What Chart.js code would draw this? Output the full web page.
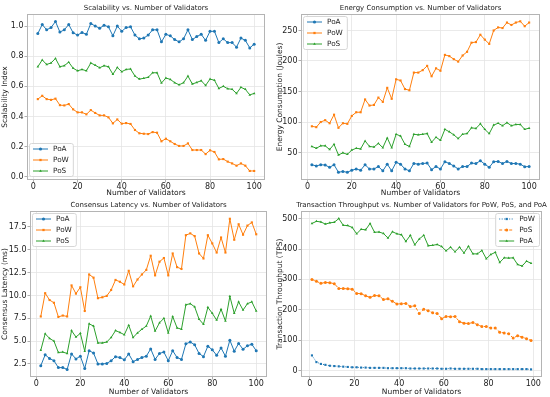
<!DOCTYPE html>
<html lang="en">
<head>
<meta charset="UTF-8">
<title>Validators</title>
<script src="https://cdn.jsdelivr.net/npm/chart.js@4.4.1/dist/chart.umd.min.js"></script>
<style>
  body { margin: 0; background: #fff; }
  .panel { position: absolute; }
</style>
</head>
<body>
<div class="panel" style="left:0;top:0"><canvas id="c1" width="275" height="198"></canvas></div>
<div class="panel" style="left:275px;top:0"><canvas id="c2" width="275" height="198"></canvas></div>
<div class="panel" style="left:0;top:198px"><canvas id="c3" width="275" height="199"></canvas></div>
<div class="panel" style="left:275px;top:198px"><canvas id="c4" width="275" height="199"></canvas></div>
<script>
// number of validators
const validators = [2,4,6,8,10,12,14,16,18,20,22,24,26,28,30,32,34,36,38,40,42,44,46,48,50,
  52,54,56,58,60,62,64,66,68,70,72,74,76,78,80,82,84,86,88,90,92,94,96,98,100];
const validatorsTps = [1,3,5,7,9,11,13,15,17,19,21,23,25,27,29,31,33,35,37,39,41,43,45,47,49,
  51,53,55,57,59,61,63,65,67,69,71,73,75,77,79,81,83,85,87,89,91,93,95,97,99];

// scalability index
const scalePoA = [0.95,1.01,0.975,0.99,1.03,0.96,0.975,1.01,0.955,0.94,0.957,0.945,1.017,1.0,0.985,1.005,0.995,0.935,1.0,0.965,
  0.99,0.995,0.94,0.915,0.92,0.94,0.975,0.975,0.895,0.945,0.935,0.91,0.895,0.915,0.975,0.91,0.93,0.945,0.905,0.965,
  0.965,0.89,0.915,0.89,0.89,0.86,0.92,0.905,0.855,0.88];
const scalePoW = [0.515,0.537,0.515,0.51,0.518,0.475,0.473,0.482,0.447,0.427,0.427,0.414,0.442,0.423,0.407,0.407,0.394,0.354,0.38,0.352,
  0.356,0.35,0.31,0.288,0.285,0.283,0.296,0.292,0.235,0.252,0.235,0.217,0.204,0.204,0.221,0.177,0.177,0.177,0.15,0.175,
  0.164,0.115,0.117,0.1,0.088,0.073,0.088,0.073,0.038,0.038];
const scalePoS = [0.73,0.775,0.745,0.755,0.785,0.73,0.737,0.76,0.72,0.703,0.712,0.703,0.755,0.74,0.723,0.737,0.73,0.68,0.725,0.697,
  0.712,0.715,0.668,0.648,0.653,0.66,0.69,0.69,0.622,0.655,0.646,0.624,0.61,0.624,0.668,0.615,0.626,0.637,0.606,0.648,
  0.64,0.586,0.6,0.584,0.58,0.553,0.593,0.58,0.543,0.553];

// energy consumption (joules)
const energyPoA = [30,28,30,29.5,25.7,30,17.6,19,17.6,21,23,21,30,23,23,27,20,31,20,34,31,23,20,32,31,
  32,32.7,22,27,23,35,32,28,23,27,27,32.7,32,36.5,31,25.7,35,35.4,32,35.4,32,32,31,26.7,27];
const energyPoW = [93,91.6,100,103,98,112,90.5,98,97,110,116,116,137,127,128,140,133,156,138,170,168,154,152,181,181,
  185,192,175,188,184,210,208,203,199,209,215,230,231,243,235,228,250,255,254,263,259,263,265,257,263];
const energyPoS = [60,57,61,61,55,63.5,46,49.5,47,54,57,56,69,60,59,65,58,74,58,80,77,63.5,60,80,79,
  80,81,67,75,70,88,84,79,73,80,81,90.5,89.5,97,88,81,95,98,94,99,94,96,96,88,90];

// consensus latency (ms)
const latencyPoA = [2.3,3.5,3.1,2.85,2.1,2.1,1.9,3.6,3.05,3.35,2.0,3.95,3.7,2.5,2.5,2.55,2.85,3.3,3.2,2.95,3.6,2.75,3.0,3.2,3.35,
  4.15,3.0,3.65,3.8,2.85,3.95,3.2,3.0,4.7,4.9,4.6,3.65,3.3,4.45,4.05,3.45,4.25,3.35,5.1,3.9,4.75,4.1,4.5,4.65,3.95];
const latencyPoW = [7.7,10.25,9.5,9.2,7.65,7.8,7.7,11.1,10.2,10.9,8.3,12.3,11.95,9.7,9.8,9.95,10.6,11.7,11.5,11.2,12.7,11.0,11.75,12.3,12.8,
  14.35,12.2,13.7,14.1,12.2,14.6,13.1,12.9,16.6,16.8,16.5,14.6,14.05,16.6,15.7,14.7,16.35,14.7,18.4,16.1,17.8,16.65,17.65,18.0,16.7];
const latencyPoS = [4.0,5.8,5.3,5.0,3.75,3.8,3.65,6.15,5.45,5.85,3.9,6.9,6.65,4.8,4.8,4.9,5.4,6.15,5.95,5.7,6.75,5.4,5.9,6.3,6.65,
  7.75,6.1,7.0,7.5,5.9,7.7,6.45,6.3,8.98,9.1,8.75,7.4,6.85,8.7,8.05,7.3,8.5,7.2,9.9,8.05,9.3,8.4,9.1,9.3,8.3];

// transaction throughput (TPS)
const tpsPoW = [50,28,22,19,16,15,14,13,12,11,11,10,10,9,9,9,9,8,8,8,8,8,7,7,7,
  7,7,7,7,6,6,7,6,6,6,6,6,6,5,5,5,5,5,5,5,5,5,5,5,4];
const tpsPoS = [300,294,287,290,289,286,270,270,269,268,254,253,246,241,247,246,234,236,228,219,220,221,211,213,188,
  202,197,190,188,171,178,177,178,161,156,155,158,151,145,145,140,140,126,124,121,107,115,110,105,99];
const tpsPoA = [484,491,489,482,486,488,500,478,477,471,450,465,463,484,455,456,451,436,457,450,447,425,445,414,433,
  445,411,412,415,408,394,406,391,406,387,409,384,384,395,368,382,389,356,371,370,371,349,344,360,353];

const BLUE = '#1f77b4', ORANGE = '#ff7f0e', GREEN = '#2ca02c';
const FONT = '"DejaVu Sans", sans-serif';
const TXT = '#222';

function pts(xs, ys) {
  return xs.map((x, i) => ({ x: x, y: ys[i] }));
}

function serie(label, xs, ys, color, style, dash) {
  return {
    label: label,
    data: pts(xs, ys),
    borderColor: color,
    backgroundColor: color,
    borderWidth: 1,
    borderDash: dash || [],
    pointStyle: style,
    pointRadius: 1.5,
    pointBorderWidth: 0,
    pointHoverRadius: 1.5,
    tension: 0
  };
}

// title, frame and legend drawn inside the axes like matplotlib does
function decor(title, legendPos) {
  return {
    id: 'decor',
    afterDraw(chart) {
      const ctx = chart.ctx, a = chart.chartArea;
      ctx.save();
      ctx.strokeStyle = '#b4b4b4';
      ctx.lineWidth = 1;
      ctx.strokeRect(Math.round(a.left) + 0.5, Math.round(a.top) + 0.5,
        Math.round(a.right - a.left) - 1, Math.round(a.bottom - a.top) - 1);

      ctx.fillStyle = TXT;
      ctx.font = '7px ' + FONT;
      ctx.textAlign = 'center';
      ctx.textBaseline = 'alphabetic';
      ctx.fillText(title, (a.left + a.right) / 2, a.top - 4);

      const sets = chart.data.datasets;
      const rowH = 11;
      ctx.font = '7.3px ' + FONT;
      const textW = Math.max(...sets.map(d => ctx.measureText(d.label).width));
      const w = 4 + 15 + 5 + textW + 4;
      const h = rowH * sets.length;
      const x = legendPos[1] === 'l' ? a.left + 2 : a.right - 3 - w;
      const y = legendPos[0] === 't' ? a.top + 2 : a.bottom - 4 - h;
      ctx.fillStyle = 'rgba(255,255,255,0.85)';
      ctx.strokeStyle = '#d6d6d6';
      ctx.beginPath();
      ctx.roundRect(x + 0.5, y + 0.5, w, h, 2);
      ctx.fill();
      ctx.stroke();
      sets.forEach((d, i) => {
        const cy = y + 6 + i * rowH;
        ctx.strokeStyle = d.borderColor;
        ctx.lineWidth = 1;
        ctx.setLineDash(d.borderDash);
        ctx.beginPath();
        ctx.moveTo(x + 4, cy);
        ctx.lineTo(x + 19, cy);
        ctx.stroke();
        ctx.setLineDash([]);
        ctx.fillStyle = d.borderColor;
        Chart.helpers.drawPoint(ctx, { pointStyle: d.pointStyle, radius: 1.6, rotation: 0, borderWidth: 0 }, x + 11.5, cy);
        ctx.fillStyle = TXT;
        ctx.textAlign = 'left';
        ctx.textBaseline = 'middle';
        ctx.fillText(d.label, x + 24, cy + 0.5);
      });
      ctx.restore();
    }
  };
}

function makeChart(id, o) {
  const canvas = document.getElementById(id);
  const H = canvas.height;
  return new Chart(canvas, {
    type: 'line',
    data: { datasets: o.datasets },
    options: {
      responsive: false,
      animation: false,
      events: [],
      layout: { padding: { top: o.top, right: o.right, left: 0, bottom: 0 } },
      plugins: { legend: { display: false }, title: { display: false }, tooltip: { enabled: false } },
      scales: {
        x: {
          type: 'linear',
          min: o.xmin, max: o.xmax,
          afterFit(s) { s.height = H - o.bottom; },
          ticks: { stepSize: 20, includeBounds: false, color: TXT, font: { family: FONT, size: 8 }, padding: 0, maxRotation: 0 },
          grid: { color: '#e4e4e4', tickColor: '#9a9a9a', tickLength: 2.5, lineWidth: 0.8 },
          border: { display: false },
          title: { display: true, text: 'Number of Validators', color: TXT, font: { family: FONT, size: 7.5 }, padding: { top: 0, bottom: 0 } }
        },
        y: {
          min: o.ymin, max: o.ymax,
          afterFit(s) { s.width = o.left; },
          ticks: { stepSize: o.ystep, includeBounds: false, color: TXT, font: { family: FONT, size: 8 }, padding: 1,
            callback: v => o.fmt ? v.toFixed(o.fmt) : v },
          grid: { color: '#e4e4e4', tickColor: '#9a9a9a', tickLength: 2.5, lineWidth: 0.8 },
          border: { display: false },
          title: { display: true, text: o.ylabel, color: TXT, font: { family: FONT, size: 7.5 }, padding: { top: 1, bottom: 1 } }
        }
      }
    },
    plugins: [decor(o.title, o.legend)]
  });
}

makeChart('c1', {
  title: 'Scalability vs. Number of Validators', ylabel: 'Scalability Index', legend: 'bl',
  top: 14, right: 10, left: 27, bottom: 180,
  xmin: -2.9, xmax: 104.9, ymin: -0.022, ymax: 1.08, ystep: 0.2, fmt: 1,
  datasets: [
    serie('PoA', validators, scalePoA, BLUE, 'circle'),
    serie('PoW', validators, scalePoW, ORANGE, 'rect'),
    serie('PoS', validators, scalePoS, GREEN, 'triangle')
  ]
});

makeChart('c2', {
  title: 'Energy Consumption vs. Number of Validators', ylabel: 'Energy Consumption (Joules)', legend: 'tl',
  top: 14, right: 10, left: 26, bottom: 180,
  xmin: -2.9, xmax: 104.9, ymin: 5, ymax: 277, ystep: 50,
  datasets: [
    serie('PoA', validators, energyPoA, BLUE, 'circle'),
    serie('PoW', validators, energyPoW, ORANGE, 'rect'),
    serie('PoS', validators, energyPoS, GREEN, 'triangle')
  ]
});

makeChart('c3', {
  title: 'Consensus Latency vs. Number of Validators', ylabel: 'Consensus Latency (ms)', legend: 'tl',
  top: 13, right: 8, left: 30, bottom: 179,
  xmin: -2.9, xmax: 104.9, ymin: 1.07, ymax: 19.25, ystep: 2.5, fmt: 1,
  datasets: [
    serie('PoA', validators, latencyPoA, BLUE, 'circle'),
    serie('PoW', validators, latencyPoW, ORANGE, 'rect'),
    serie('PoS', validators, latencyPoS, GREEN, 'triangle')
  ]
});

makeChart('c4', {
  title: 'Transaction Throughput vs. Number of Validators for PoW, PoS, and PoA', ylabel: 'Transaction Throughput (TPS)', legend: 'tr',
  top: 13, right: 8, left: 26, bottom: 179,
  xmin: -3.9, xmax: 103.9, ymin: -21, ymax: 525, ystep: 100,
  datasets: [
    serie('PoW', validatorsTps, tpsPoW, BLUE, 'rect', [1, 1.5]),
    serie('PoS', validatorsTps, tpsPoS, ORANGE, 'circle', [3, 2]),
    serie('PoA', validatorsTps, tpsPoA, GREEN, 'triangle')
  ]
});
</script>
</body>
</html>
